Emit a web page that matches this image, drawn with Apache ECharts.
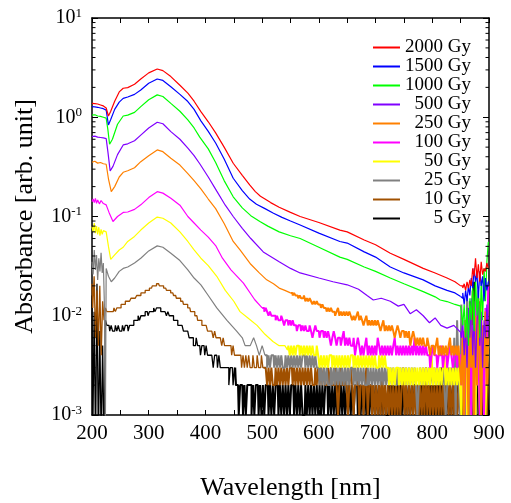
<!DOCTYPE html>
<html>
<head>
<meta charset="utf-8">
<script src="https://cdn.jsdelivr.net/npm/echarts@6/dist/echarts.min.js"></script>
<style>html,body{margin:0;padding:0;background:#fff;}#c{width:511px;height:503px;}</style>
</head>
<body>
<div id="c"></div>
<script>
// ---------- data (absorbance vs wavelength) ----------
const NAMES = ['2000 Gy','1500 Gy','1000 Gy','500 Gy','250 Gy','100 Gy','50 Gy','25 Gy','10 Gy','5 Gy'];
const COLORS = ['#ff0000','#0000ff','#00ff00','#8000ff','#ff8000','#ff00ff','#ffff00','#808080','#a05000','#000000'];
const TAIL_STEP = 2.5; // nm between points of the noisy "tail" arrays (values in 1e-3 units)

const RED_MAIN = [[200,1.38],[205,1.37],[210,1.36],[215,1.33],[220,1.30],[225,1.24],[229,1.03],[233,1.15],[240,1.45],[248,1.80],[255,1.96],[263,1.99],[275,2.15],[286,2.43],[300,2.8],[315,3.06],[325,2.95],[339,2.57],[355,2.1],[369,1.75],[380,1.45],[392,1.14],[405,0.9],[418,0.695],[433,0.5],[449,0.344],[465,0.26],[478,0.208],[488,0.178],[497,0.16],[505,0.15],[515,0.138],[530,0.124],[550,0.11],[567,0.1],[600,0.087],[637,0.073],[650,0.070],[680,0.058],[700,0.052],[726,0.0426],[750,0.037],[784,0.030],[805,0.027],[826,0.024],[840,0.022],[850,0.020]];
const RED_TAIL = [20,19,21,18,22,19,23,20,30,25,38,24,33,22,35,26,30,28,34,30];

const BLUE_MAIN = [[200,1.28],[205,1.27],[210,1.26],[215,1.24],[220,1.22],[225,1.18],[229,0.836],[233,0.95],[240,1.2],[248,1.42],[255,1.55],[263,1.60],[275,1.70],[286,1.88],[300,2.2],[315,2.43],[325,2.35],[339,2.03],[355,1.7],[369,1.44],[380,1.2],[392,0.92],[405,0.72],[418,0.55],[433,0.38],[449,0.243],[465,0.182],[478,0.15],[490,0.133],[505,0.12],[520,0.108],[535,0.098],[550,0.09],[567,0.082],[600,0.068],[637,0.056],[650,0.054],[680,0.044],[700,0.039],[726,0.031],[750,0.027],[784,0.023],[805,0.020],[826,0.018],[840,0.017],[850,0.0156]];
const BLUE_TAIL = [15,17,13,18,14,20,16,24,19,30,22,27,15,28,20,25,14,24,18,22];

const GREEN_MAIN = [[200,1.05],[205,1.06],[210,1.03],[215,1.02],[220,1.0],[225,0.98],[228,0.75],[231,0.535],[236,0.6],[245,0.85],[255,1.03],[263,1.05],[275,1.12],[286,1.28],[300,1.5],[315,1.68],[325,1.62],[339,1.38],[355,1.15],[369,0.94],[380,0.78],[390,0.63],[405,0.48],[418,0.35],[433,0.23],[449,0.158],[465,0.122],[480,0.102],[496,0.089],[510,0.08],[530,0.07],[550,0.064],[567,0.060],[600,0.049],[637,0.039],[650,0.037],[680,0.031],[700,0.028],[726,0.024],[750,0.021],[784,0.0175],[805,0.0155],[814,0.0144],[826,0.0139],[840,0.013],[850,0.0125]];
const GREEN_TAIL = [11,8,13,6,12,5,15,9,20,7,25,10,18,6,22,9,30,14,35,55];

const VIOLET_MAIN = [[200,0.64],[205,0.645],[210,0.63],[215,0.625],[220,0.62],[225,0.61],[228,0.45],[232,0.288],[237,0.32],[245,0.42],[255,0.526],[263,0.54],[275,0.58],[286,0.66],[300,0.78],[315,0.89],[325,0.86],[339,0.716],[355,0.6],[369,0.488],[380,0.41],[390,0.34],[405,0.25],[420,0.18],[435,0.13],[449,0.1],[465,0.076],[480,0.06],[502,0.044],[530,0.035],[550,0.030],[567,0.027],[600,0.024],[625,0.022],[650,0.0205],[670,0.0185],[685,0.016],[696,0.0144],[710,0.015],[726,0.0140],[740,0.0125],[750,0.013],[761,0.0105],[772,0.0115],[784,0.0100],[795,0.0085],[805,0.0095],[815,0.008],[826,0.0075],[838,0.008],[850,0.0068]];
const VIOLET_TAIL = [6,9,4,8,3,12,6,15,4,10,3,8,18,5,11,3,9,6,13,7];

const ORANGE_MAIN = [[200,0.352],[205,0.36],[210,0.345],[215,0.35],[220,0.34],[225,0.336],[229,0.24],[234,0.178],[240,0.2],[248,0.25],[255,0.279],[263,0.289],[275,0.31],[286,0.357],[300,0.41],[315,0.469],[325,0.45],[339,0.386],[355,0.33],[369,0.27],[380,0.23],[392,0.19],[405,0.15],[418,0.12],[433,0.085],[449,0.056],[461,0.046],[480,0.033],[495,0.027],[508,0.023],[520,0.021],[530,0.019],[540,0.018],[550,0.017]];
const ORANGE_TAIL = [17,16,17,16,16,15,16,15,15,16,14,15,14,15,14,13,14,13,14,13,
  13,12,13,12,12,11,12,11,12,11,11,10,11,12,10,11,10,11,10,11,
  10,11,10,9,10,9,10,11,9,10,9,8,9,10,8,9,8,9,8,9,
  8,9,8,7,8,9,7,8,7,8,7,8,7,6,7,8,7,6,7,7,
  6,7,6,7,5,6,7,6,5,6,5,6,5,6,5,5,6,5,4,5,
  5,4,5,6,4,5,4,5,4,5,4,5,6,4,5,4,5,4,5,3,
  2,6,1,9,4,1,12,3,7,1,10,2,15,4,1,8,3,11,2,6];

const MAGENTA_MAIN = [[200,0.141],[202,0.15],[204,0.138],[206,0.152],[208,0.136],[210,0.147],[213,0.134],[216,0.145],[220,0.135],[225,0.131],[230,0.11],[237,0.089],[245,0.1],[255,0.110],[263,0.111],[275,0.118],[286,0.131],[300,0.155],[315,0.178],[325,0.172],[339,0.153],[355,0.13],[369,0.1],[380,0.086],[392,0.073],[405,0.062],[418,0.051],[430,0.038],[445,0.029],[467,0.0213],[487,0.0145],[500,0.012]];
const MAGENTA_TAIL = [12,11,12,11,10,11,10,10,
  10,9,10,9,9,10,9,8,9,9,8,9,8,9,8,8,7,8,8,7,
  8,7,8,7,7,8,7,6,7,8,7,7,6,7,7,6,
  7,6,7,6,5,6,7,6,5,6,6,5,6,7,5,6,5,6,5,5,6,4,5,6,
  5,4,5,4,5,6,4,5,4,5,4,5,4,6,5,4,5,4,5,4,5,4,5,4,5,6,4,5,4,5,4,5,4,5,4,5,4,5,4,6,4,5,4,5,4,5,
  4,5,4,4,3,4,5,4,4,3,4,4,5,3,4,4,3,4,5,4,3,4,4,3,4,4,
  2,7,1,5,10,2,4,1,8,3,14,2,6,1,9,3,1,12,5,20];

const YELLOW_MAIN = [[200,0.079],[202,0.07],[204,0.086],[206,0.068],[208,0.08],[210,0.066],[212,0.078],[214,0.064],[216,0.074],[218,0.066],[220,0.072],[225,0.07],[229,0.05],[233,0.037],[240,0.041],[248,0.046],[255,0.049],[263,0.056],[275,0.063],[286,0.073],[300,0.086],[315,0.0986],[325,0.096],[339,0.086],[355,0.07],[369,0.056],[380,0.046],[392,0.038],[405,0.032],[420,0.025],[435,0.018],[450,0.014],[461,0.011],[475,0.0095],[491,0.008],[505,0.0065],[519,0.0055],[530,0.005],[540,0.005],[545,0.0045]];
const YELLOW_TAIL = [5,4,5,4,5,4,5,5,4,5,4,5,4,5,4,5,4,5,4,4,5,
  4,3,4,3,4,3,4,3,4,4,3,4,3,4,3,4,3,4,3,4,3,4,3,4,4,3,4,3,4,3,4,3,4,3,4,3,4,3,4,3,4,3,3,4,3,4,3,4,3,
  3,2,3,2,3,2,3,3,2,3,2,3,2,3,2,3,2,3,2,3,2,3,2,3,2,
  3,2,3,2,3,2,4,2,3,2,3,2,3,2,3,4,2,3,2,3,2,3,2,3,2,3,2,
  1,5,2,8,1,3,12,1,6,2,1,10,4,1,15,2,7,1,3,5];

const GREY_MAIN = [[200,0.035],[202,0.026],[204,0.046],[206,0.029],[208,0.041],[210,0.023],[212,0.038],[214,0.028],[216,0.043],[218,0.027],[220,0.034],[222,0.012],[223.5,0.0006],[225,0.03],[229,0.025],[234,0.022],[240,0.024],[248,0.028],[255,0.030],[263,0.031],[275,0.034],[286,0.038],[300,0.045],[315,0.0506],[325,0.049],[339,0.0426],[355,0.036],[369,0.029],[380,0.024],[392,0.0205],[405,0.016],[420,0.012],[438,0.009],[455,0.007],[465,0.006],[470,0.005],[479,0.005],[485,0.006],[490,0.005],[495,0.004],[500,0.005],[505,0.004]];
const GREY_TAIL = [4,3,4,3,4,4,3,4,3,4,3,4,3,3,4,3,4,3,4,3,4,3,4,3,4,3,4,4,3,4,3,4,3,4,3,4,3,
  3,2,3,2,3,2,3,2,2,3,2,3,2,3,2,3,2,3,2,3,2,3,2,3,3,2,3,2,3,2,3,2,3,2,2,3,2,3,2,3,2,3,2,3,
  2,3,2,3,2,3,2,3,2,3,2,2,3,2,3,2,3,2,3,2,3,2,3,2,3,2,1,2,3,2,3,2,3,2,3,2,3,2,3,2,3,2,3,2,3,2,1,2,3,2,3,
  2,6,1,9,3,1,13,2,5,1,16,3,1,8,2,11,1,4,2,7];

// 10 Gy and 5 Gy: whole curves, one value every 2.5 nm from 200 nm (1e-3 units, 0.5 = below axis)
const BROWN_FULL = [21,12,25,6,18,5,20,4,14,9,12,
  11,11,11,11,11,12,11,12,12,12,13,13,
  13,14,14,14,14,15,15,15, 15,16,16,16,17,17,17,18, 18,18,19,19,20,20,20,21,
  21,20,20,20,19,19,18,18, 18,17,17,16,16,15,15,15, 14,14,13,13,13,12,12,11,
  11,11,10,10,9,9,9,8, 8,8,8,7,7,7,7,6, 7,6,6,6,6,5,6,5, 5,5,5,5,4,5,4,4,
  4,4,4,3,4,3,4,3,4,3, 3,4,3,3,4,3,3,4,3,3,
  3,2,3,2,3,2,2,3,2,3,2,3,2,3,2,3,2,3,3,2,3,2,3,2,3,2,3,2,3,2,3,2,3,2,2,3,2,3,
  2,3,2,3,2,2,3,2,3,2,2,3,2,1,2,3,2,2,3,2,1,2,3,2,1,2,2,3,1,2,2,1,2,3,1,2,
  2,1,2,1,2,1,2,1,3,1,2,1,2,1,2,1,2,1,2,1,2,1,2,3,1,2,1,2,1,2,1,2,1,2,1,2,1,2,1,3,1,2,1,2,1,2,1,2,1,2,1,2,1,2,3,1,2,1,2,1,2,1,2,
  1,4,1,7,2,1,11,2,1,18,3,1,9,2,14,1,5,2,10,1,3];
const BLACK_FULL = [16,0.5,11,0.5,21,0.5,7,0.5,5,0.5,9,
  8,8,7,8,7,7,8,7,8,7,7,8,
  7,8,8,7,8,8,8,9, 9,9,10,9,10,10,10,11, 11,10,11,11,11,12,11,12,
  12,12,11,11,11,11,10,11, 10,10,10,9,9,9,8,8, 8,8,7,7,7,7,6,6,
  6,5,5,6,5,5,4,5, 5,4,5,4,4,4,4,3, 4,4,3,4,3,3,3,3, 3,3,2,3,3,2,3,2,
  2,1,2,2,1,2,1,2,2,2, 1,2,1,2,2,1,2,1,2,1, 2,2,1,2,1,2,1,2,2,1, 2,1,2,1,2,1,2,1,2,2,
  1,2,1,2,1,2,1,1,2,1, 2,1,2,1,2,1,2,1,2,1, 2,1,2,2,1,2,1,2,1,2, 1,2,1,2,1,2,1,2,1,2,
  1,2,1,2,2,1,2,1,2,1, 2,1,2,1,2,1,2,1,2,1, 2,1,2,1,2,1,1,2,1,2, 1,2,1,2,1,2,1,2,1,2,
  1,2,1,2,1,2,2,1,2,1, 2,1,2,1,2,1,2,1,2,1, 2,1,2,1,3,1,2,1,2,1, 2,1,2,1,3,1,2,
  2,1,5,1,9,2,1,14,3,1,22,2,6,1,12,3,1,8,2,4,1];
const BROWN_NOISE_FROM = 505; // nm where the 10 Gy trace turns into a noise band
const BLACK_NOISE_FROM = 455; // nm where the 5 Gy trace turns into a noise band

// axis ticks
const X_MIN = 200, X_MAX = 900, X_STEP = 100;
const Y_MIN = 0.001, Y_MAX = 10;
const MINOR_MANTISSA = [2,3,4,5,6,7,8,9];
const MINOR_DECADES = [-3,-2,-1,0];

// ---------- build ----------
const MAINS = [RED_MAIN, BLUE_MAIN, GREEN_MAIN, VIOLET_MAIN, ORANGE_MAIN, MAGENTA_MAIN, YELLOW_MAIN, GREY_MAIN];
const TAILS = [RED_TAIL, BLUE_TAIL, GREEN_TAIL, VIOLET_TAIL, ORANGE_TAIL, MAGENTA_TAIL, YELLOW_TAIL, GREY_TAIL];
const FULLS = { 8: [BROWN_FULL, BROWN_NOISE_FROM], 9: [BLACK_FULL, BLACK_NOISE_FROM] };

function tailData(main, tail) {
  const lastPt = main[main.length - 1];
  return [lastPt].concat(tail.map((t, i) => [lastPt[0] + (i + 1) * TAIL_STEP, t / 1000]));
}
function fullData(arr) { return arr.map((t, i) => [X_MIN + i * TAIL_STEP, t / 1000]); }

const minorVals = [];
MINOR_DECADES.forEach(d => MINOR_MANTISSA.forEach(m => minorVals.push(m * Math.pow(10, d))));

const FONT = 'Liberation Serif';
function lineSeries(name, color, data, step, width) {
  return { name: name, type: 'line', data: data, showSymbol: false, symbol: 'none', step: step,
    lineStyle: { color: color, width: width }, itemStyle: { color: color },
    clip: true, silent: true, z: 2 };
}
const TAIL_WIDTH = 2;
const series = [];
for (let k = NAMES.length - 1; k >= 0; k--) {
  if (FULLS[k]) {
    const d = fullData(FULLS[k][0]);
    const cut = FULLS[k][1];
    series.push(lineSeries(NAMES[k], COLORS[k], d.filter(p => p[0] <= cut), 'middle', 1.3));
    series.push(lineSeries(NAMES[k], COLORS[k], d.filter(p => p[0] >= cut - TAIL_STEP), 'middle', TAIL_WIDTH));
  } else {
    series.push(lineSeries(NAMES[k], COLORS[k], MAINS[k], false, 1.2));
    series.push(lineSeries(NAMES[k], COLORS[k], tailData(MAINS[k], TAILS[k]), 'middle', k <= 3 ? 1.2 : TAIL_WIDTH));
  }
}
series.push({
  type: 'custom', silent: true, z: 5, clip: false,
  data: minorVals.map(v => [v]),
  encode: { y: 0 },
  renderItem: function (params, api) {
    const v = api.value(0);
    const pl = api.coord([X_MIN, v]);
    const pr = api.coord([X_MAX, v]);
    return { type: 'group', children: [
      { type: 'line', shape: { x1: pl[0], y1: pl[1], x2: pl[0] + 3.5, y2: pl[1] }, style: { stroke: '#000', lineWidth: 1 } },
      { type: 'line', shape: { x1: pr[0], y1: pr[1], x2: pr[0] - 3.5, y2: pr[1] }, style: { stroke: '#000', lineWidth: 1 } }
    ]};
  }
});

const axisLineStyle = { color: '#000', width: 1.5 };
const chart = echarts.init(document.getElementById('c'), null, { renderer: 'canvas' });
chart.setOption({
  animation: false,
  backgroundColor: '#fff',
  grid: { left: 92, right: 22, top: 18, bottom: 88, containLabel: false, outerBoundsMode: 'none' },
  legend: {
    data: NAMES, orient: 'vertical', left: 368, top: 33, itemWidth: 27, itemHeight: 2, itemGap: 0,
    icon: 'rect', selectedMode: false,
    formatter: n => '{a|' + n + '}',
    textStyle: { color: '#000', fontFamily: FONT, fontSize: 19, lineHeight: 18.7,
      rich: { a: { width: 66, align: 'right', color: '#000', fontFamily: FONT, fontSize: 19, lineHeight: 18.7 } } }
  },
  xAxis: [
    { type: 'value', min: X_MIN, max: X_MAX, interval: X_STEP, position: 'bottom',
      name: 'Wavelength [nm]', nameLocation: 'middle', nameGap: 60,
      nameTextStyle: { fontFamily: FONT, fontSize: 26, color: '#000' },
      axisLine: { show: true, lineStyle: axisLineStyle },
      axisTick: { show: true, inside: true, length: 5, lineStyle: { color: '#000', width: 1 } },
      minorTick: { show: true, splitNumber: 2, length: 5, lineStyle: { color: '#000', width: 1 } },
      axisLabel: { fontFamily: FONT, fontSize: 21, color: '#000', margin: 8 },
      splitLine: { show: false } },
    { type: 'value', min: X_MIN, max: X_MAX, interval: X_STEP, position: 'top',
      axisLine: { show: true, lineStyle: axisLineStyle },
      axisTick: { show: true, inside: true, length: 5, lineStyle: { color: '#000', width: 1 } },
      minorTick: { show: true, splitNumber: 2, length: 5, lineStyle: { color: '#000', width: 1 } },
      axisLabel: { show: false }, splitLine: { show: false } }
  ],
  yAxis: [
    { type: 'log', logBase: 10, min: Y_MIN, max: Y_MAX, position: 'left',
      name: 'Absorbance [arb. unit]', nameLocation: 'middle', nameGap: 54, nameRotate: 90,
      nameTextStyle: { fontFamily: FONT, fontSize: 26, color: '#000' },
      axisLine: { show: true, lineStyle: axisLineStyle },
      axisTick: { show: true, inside: true, length: 6, lineStyle: { color: '#000', width: 1 } },
      axisLabel: { margin: 10, color: '#000',
        formatter: v => '{b|10}{s|' + Math.round(Math.log10(v)) + '}',
        rich: { b: { fontFamily: FONT, fontSize: 20, color: '#000', lineHeight: 22 },
                s: { fontFamily: FONT, fontSize: 13, color: '#000', verticalAlign: 'top', lineHeight: 12 } } },
      splitLine: { show: false } },
    { type: 'log', logBase: 10, min: Y_MIN, max: Y_MAX, position: 'right',
      axisLine: { show: true, lineStyle: axisLineStyle },
      axisTick: { show: true, inside: true, length: 6, lineStyle: { color: '#000', width: 1 } },
      axisLabel: { show: false }, splitLine: { show: false } }
  ],
  series: series
});
</script>
</body>
</html>
